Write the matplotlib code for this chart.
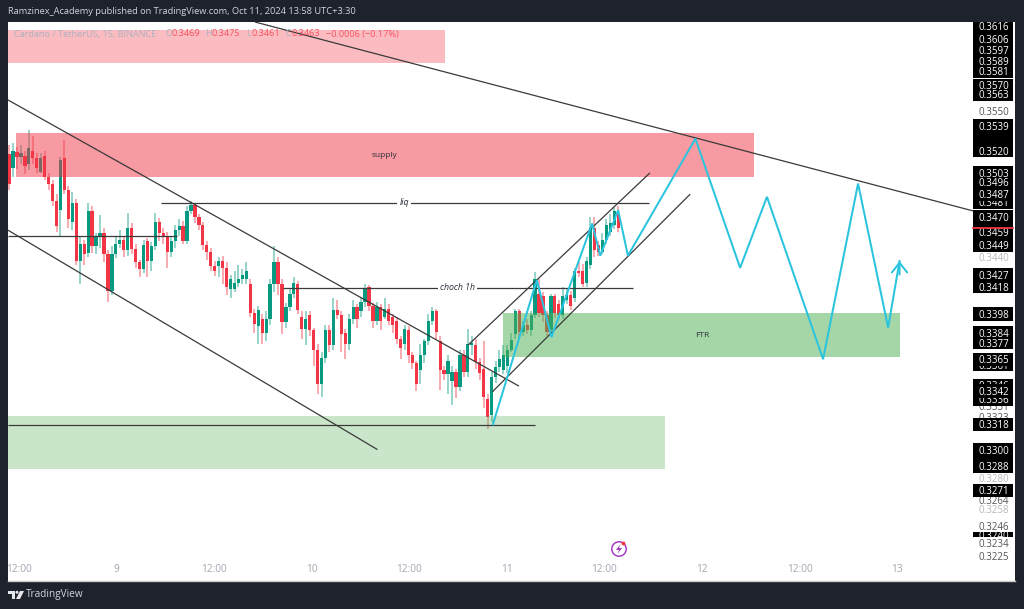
import numpy as np
import matplotlib
matplotlib.use("Agg")
import matplotlib.pyplot as plt
from matplotlib.patches import Rectangle, Circle, Polygon
from matplotlib.transforms import blended_transform_factory, Affine2D

opens = [
.3517,.3507,.3519,.3515,.3516,.3510,.3520,.3514,.3504,
.3516,.3500,.3495,.3482,.3475,.3514,.3490,.3466,.3480,.3437,
.3450,.3443,.3474,.3448,.3455,.3458,.3442,.3415,.3442,.3450,
.3453,.3445,.3462,.3446,.3436,.3431,.3452,.3437,.3448,
.3466,.3458,.3456,.3444,.3452,.3460,.3463,.3452,.3474,.3479,
.3470,.3464,.3449,.3444,.3433,.3433,.3437,.3432,.3416,.3416,.3421,.3424,
.3424,.3420,.3399,.3389,.3394,.3384,.3394,.3420,.3436,.3420,
.3392,.3403,.3413,.3420,.3396,.3387,.3397,.3386,.3372,
.3347,.3366,.3386,.3375,.3401,.3397,.3384,.3376,.3394,.3403,
.3400,.3407,.3418,.3404,.3393,.3403,.3396,.3402,.3396,.3393,
.3380,.3376,.3386,.3368,.3362,.3357,.3368,.3378,.3393,.3400,
.3378,.3357,.3354,.3349,.3356,.3345,.3368,.3356,.3375,.3375,
.3363,.3358,.3336,.3325,.3352,.3359,.3357,.3360,.3372,.3383,
.3400,.3385,.3390,.3386,.3397,.3413,.3411,.3397,.3386,.3411,
.3405,.3397,.3408,.3412,.3410,.3430,.3430,.3421,.3434,.3462,
.3449,.3444,.3453,.3459,.3464,.3472]
closes = [
.3495,.3520,.3515,.3518,.3508,.3522,.3514,.3507,.3514,
.3500,.3495,.3482,.3463,.3513,.3490,.3468,.3480,.3437,.3450,
.3442,.3474,.3448,.3455,.3458,.3442,.3415,.3442,.3450,.3453,
.3445,.3462,.3446,.3436,.3431,.3449,.3437,.3448,.3466,
.3458,.3456,.3444,.3452,.3460,.3463,.3452,.3474,.3479,.3470,
.3464,.3449,.3444,.3433,.3430,.3437,.3432,.3418,.3424,.3421,.3424,.3427,
.3430,.3399,.3391,.3401,.3384,.3394,.3420,.3436,.3420,.3392,
.3403,.3413,.3421,.3401,.3387,.3394,.3386,.3372,.3347,
.3366,.3386,.3375,.3401,.3397,.3383,.3376,.3394,.3403,.3394,
.3407,.3417,.3404,.3393,.3403,.3393,.3402,.3393,.3390,.3380,
.3373,.3387,.3368,.3362,.3347,.3368,.3378,.3393,.3400,.3385,
.3357,.3354,.3364,.3356,.3345,.3368,.3356,.3376,.3377,.3363,
.3355,.3338,.3323,.3352,.3359,.3365,.3368,.3372,.3379,.3400,
.3385,.3390,.3386,.3397,.3424,.3399,.3397,.3385,.3411,.3399,
.3397,.3411,.3412,.3404,.3430,.3428,.3420,.3437,.3462,.3445,
.3444,.3453,.3464,.3465,.3474,.3462]
highs = [
.3524,.3526,.3523,.3524,.3520,.3536,.3531,.3518,.3518,
.3520,.3503,.3498,.3487,.3515,.3528,.3493,.3489,.3483,.3455,
.3453,.3480,.3478,.3458,.3471,.3462,.3445,.3448,.3455,.3460,
.3456,.3473,.3465,.3450,.3438,.3453,.3454,.3451,.3473,
.3469,.3462,.3459,.3456,.3464,.3468,.3467,.3478,.3482,.3480,
.3472,.3466,.3452,.3447,.3437,.3440,.3441,.3436,.3427,.3430,.3434,.3431,
.3436,.3424,.3402,.3404,.3398,.3400,.3424,.3448,.3440,.3424,
.3406,.3416,.3425,.3422,.3400,.3400,.3400,.3388,.3376,
.3370,.3390,.3390,.3410,.3408,.3400,.3387,.3398,.3408,.3405,
.3410,.3420,.3419,.3406,.3407,.3405,.3410,.3405,.3398,.3396,
.3382,.3390,.3389,.3370,.3364,.3376,.3380,.3398,.3403,.3402,
.3382,.3360,.3368,.3360,.3358,.3372,.3372,.3387,.3382,.3380,
.3366,.3378,.3340,.3356,.3364,.3372,.3375,.3375,.3384,.3402,
.3402,.3393,.3394,.3400,.3429,.3424,.3414,.3400,.3413,.3413,
.3408,.3418,.3416,.3415,.3432,.3436,.3435,.3440,.3470,.3470,
.3452,.3458,.3468,.3472,.3477,.3478]
lows = [
.3490,.3500,.3506,.3510,.3502,.3505,.3510,.3503,.3503,
.3498,.3490,.3478,.3459,.3455,.3487,.3462,.3460,.3434,.3420,
.3434,.3440,.3443,.3442,.3447,.3436,.3407,.3412,.3439,.3447,
.3440,.3441,.3442,.3432,.3425,.3428,.3425,.3430,.3445,
.3452,.3450,.3432,.3440,.3447,.3456,.3450,.3450,.3472,.3465,
.3460,.3445,.3438,.3430,.3426,.3425,.3420,.3412,.3410,.3414,.3418,.3420,
.3420,.3396,.3384,.3376,.3376,.3378,.3390,.3414,.3412,.3383,
.3388,.3400,.3410,.3398,.3380,.3375,.3382,.3360,.3340,
.3338,.3362,.3370,.3372,.3394,.3370,.3365,.3372,.3391,.3388,
.3396,.3403,.3400,.3388,.3390,.3386,.3394,.3390,.3384,.3376,
.3365,.3372,.3362,.3358,.3342,.3347,.3362,.3375,.3390,.3380,
.3343,.3350,.3340,.3332,.3337,.3342,.3352,.3352,.3368,.3358,
.3350,.3330,.3315,.3320,.3348,.3356,.3354,.3355,.3370,.3380,
.3380,.3382,.3383,.3382,.3395,.3396,.3392,.3382,.3383,.3395,
.3394,.3394,.3405,.3401,.3407,.3425,.3418,.3418,.3431,.3440,
.3441,.3442,.3450,.3456,.3461,.3459]

first_bar_hour, last_bar_hour = 10.9, 85.8

path_hours  = [70.4,75.8,77.6,82.6,83.6,85.8,87.0,95.3,100.8,104.1,111.0,115.3,119.0,120.4]
path_prices = [.3318,.3423,.3381,.3465,.3441,.3475,.3441,.3529,.3432,.3485,.3365,.3495,.3388,.3437]

trend_lines = {  # hours (start, end), prices (start, end)
    "resistance": ((41.15,129.7),(.3619,.3474)),
    "channel_top": ((10.77,73.6),(.35586,.33455)),
    "channel_bottom": ((10.77,56.2),(.3460,.3300)),
    "rise_top": ((67.35,89.7),(.33753,.3503)),
    "rise_bottom": ((70.3,94.66),(.33412,.3487)),
    "level_a": ((10.77,31.56),(.34557,.34557)),
    "liq": ((29.6,89.6),(.34807,.34807)),
    "choch": ((44.6,87.6),(.34174,.34174)),
    "level_b": ((10.77,75.6),(.33178,.33178)),
}

zones = [  # hour0, hour1, price0, price1, colour, alpha
    (10.77,64.5,.3587,.3613,"#f23645",.33),
    (11.7,102.5,.3500,.3533,"#f23645",.5),
    (10.77,91.5,.3286,.3324,"#4caf50",.3),
    (71.65,120.5,.33666,.3399,"#4caf50",.5),
]

tick_hours = [12,24,36,48,60,72,84,96,108,120]
tick_texts = ["12:00","9","12:00","10","12:00","11","12:00","12","12:00","13"]

blank_boxes = [.3530,.3466,.3453,.3294]
black_back = [.3606,.3581,.3481,.3449,.3361,.3346,.3336]
black_front = [.3616,.3597,.3589,.3570,.3563,.3539,.3520,.3503,.3496,.3487,.3470,.3459,
               .3427,.3418,.3398,.3384,.3377,.3365,.3342,.3318,.3300,.3288,.3271]
thin_label = .3240
plain_labels = [.3550,.3331,.3323,.3264,.3246,.3234,.3225]
faint_labels = [.3440,.3280,.3258]

DARK = "#1e222d"
UP, DOWN = "#089981", "#f23645"
LINE = "#3a3a3a"
FONT = "Open Sans"
W, H = 1024, 609

fig = plt.figure(figsize=(W/100, H/100), dpi=100, facecolor=DARK)
ax = fig.add_axes([8/W, 1-581/H, (1015-8)/W, (581-22)/H], facecolor="white")
ax.set_yscale("log")
ax.set_xlim(10.77, 134.6)
ax.set_ylim(.32077, .3619)
ax.minorticks_off()
ax.set_xticks([]); ax.set_yticks([])
ax.yaxis.set_tick_params(which="both", length=0, labelleft=False)
for s in ax.spines.values():
    s.set_visible(False)
ax.plot([0,1],[0,0],transform=ax.transAxes,color="#c8c8c8",lw=1,zorder=1,clip_on=False)

# candles
n = len(closes)
t = np.linspace(first_bar_hour, last_bar_hour, n)
o, c, hi, lo = map(np.array, (opens, closes, highs, lows))
col = np.where(c >= o, UP, DOWN)
ax.vlines(t, lo, hi, colors=col, linewidth=1.3, alpha=.45, zorder=2)
ax.bar(t, np.abs(c-o), bottom=np.minimum(o,c), width=.40, color=col, linewidth=0, zorder=3)

# zones
for h0,h1,p0,p1,colr,a in zones:
    ax.add_patch(Rectangle((h0,p0),h1-h0,p1-p0,fc=colr,alpha=a,ec="none",zorder=4))

# lines
for hs,ps in trend_lines.values():
    ax.plot(hs,ps,color=LINE,lw=0.9,zorder=5,solid_capstyle="butt")

CYAN = "#2bc4de"
ax.plot(path_hours,path_prices,color=CYAN,lw=1.45,zorder=6,solid_joinstyle="miter")
ax.annotate("",xy=(path_hours[-1],path_prices[-1]),xytext=(path_hours[-1],path_prices[-1]-.0010),
            arrowprops=dict(arrowstyle="->,head_length=.7,head_width=.55",color=CYAN,lw=1.45,shrinkA=0,shrinkB=0),zorder=6)

# drawn captions
txt = dict(ha="center",va="center",family=FONT,color="#2a2e39")
ax.text(57.1,.35165,"supply",fontsize=6,zorder=7,**txt)
ax.text(96.1,.33825,"FTR",fontsize=6,zorder=7,**txt)
bb = dict(fc="white",ec="none",pad=1.5)
ax.text(59.5,.34807,"liq",fontsize=6.3,style="italic",bbox=bb,zorder=7,**txt)
ax.text(66.0,.34174,"choch 1h",fontsize=6.3,style="italic",bbox=bb,zorder=7,**txt)

# price labels
tr = blended_transform_factory(ax.transAxes, ax.transData)
f = np.exp(6.6/4633)
BX, BW = .958, .0397
def price_text(p, colr, z=10):
    return ax.text(.979,p,f"{p:.4f}",transform=tr,ha="center",va="center_baseline",fontsize=7,family=FONT,
            color=colr,zorder=z,clip_on=True)
def box(p, z, ff=f):
    return ax.add_patch(Rectangle((BX,p/ff),BW,p*ff-p/ff,transform=tr,fc="black",ec="none",zorder=z))
for p in plain_labels:
    price_text(p,"#555555",z=8)
for p in faint_labels:
    price_text(p,"#b8b8b8",z=8)
for p in blank_boxes:
    box(p,9)
for p in black_back:
    box(p,9)
    price_text(p,"white",z=9.5)
for p in black_front:
    box(p,10)
    price_text(p,"white",z=11)
thin = box(thin_label,9,np.exp(2.2/4633))
price_text(thin_label,"white",z=9.5).set_clip_path(thin)
ax.plot([BX,BX+BW],[closes[-1]]*2,transform=tr,color="#f23645",lw=1.3,zorder=12,clip_on=False)

# x tick labels
for h,s in zip(tick_hours,tick_texts):
    ax.text(h+.1,.32077*np.exp(11/4633),s,ha="center",va="center",fontsize=7.3,family=FONT,color="#a3a7b1",zorder=7,clip_on=True)

# pixel helpers for furniture
px = Affine2D().scale(1/W,-1/H).translate(0,1)+fig.transFigure
def ftext(x,y,s,**k):
    return fig.text(x,y,s,transform=px,va="center",family=FONT,**k)

ftext(8,12,"Ramzinex_Academy published on TradingView.com, Oct 11, 2024 13:58 UTC+3:30",fontsize=6.67,color="#d1d4dc",zorder=20)
GREY="#aeb1bf"; RED="#f7525f"
for x,s,colr in [(14,"Cardano / TetherUS, 15, BINANCE",GREY),(165,"O",GREY),(171,"0.3469",RED),(205,"H",GREY),(212,"0.3475",RED),
                 (246,"L",GREY),(251,"0.3461",RED),(285,"C",GREY),(291,"0.3463",RED),(326,"−0.0006 (−0.17%)",RED)]:
    ftext(x,34,s,fontsize=6.6,color=colr,zorder=20)
ftext(26,595,"TradingView",fontsize=7.2,color="#d1d4dc",zorder=20)

# logo
logo = [Polygon([(8,591),(15,591),(15,599),(11.5,599),(11.5,594),(8,594)],closed=True),
        Circle((17,592.3),1.5),
        Polygon([(20,591),(24,591),(20,599),(16,599)],closed=True)]
for p in logo:
    p.set(transform=px,fc="#e6e8ee",ec="none",zorder=20)
    fig.add_artist(p)

# news icon
fig.add_artist(Circle((619,549),7.2,transform=px,fc="white",ec="#a23ec2",lw=1.1,zorder=20))
fig.add_artist(Polygon([(620.5,544),(616,550),(619,550),(617.5,554),(622,548),(619,548)],closed=True,transform=px,fc="#a23ec2",ec="none",zorder=21))
fig.add_artist(Circle((623.5,543.5),1.9,transform=px,fc="#f23645",ec="none",zorder=22))

fig.savefig("out.png",dpi=100,facecolor=DARK)
